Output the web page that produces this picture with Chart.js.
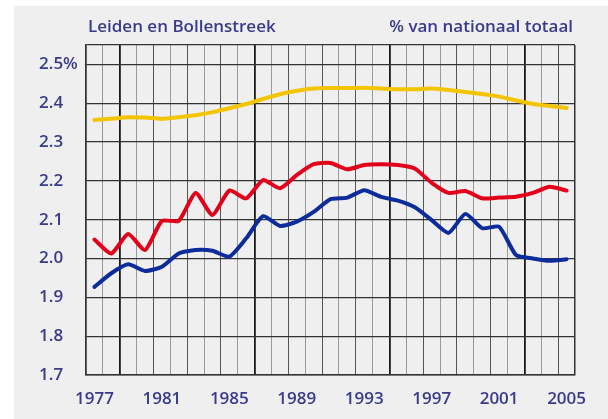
<!DOCTYPE html>
<html>
<head>
<meta charset="utf-8">
<script src="https://cdn.jsdelivr.net/npm/chart.js@4"></script>
<style>
  html, body { margin: 0; padding: 0; background: #fff; }
  #wrap { position: relative; width: 608px; height: 419px; }
  #panel { position: absolute; left: 14px; top: 6px; right: 0; bottom: 0; background: #efefef; }
  #chart { position: absolute; left: 0; top: 0; }
</style>
</head>
<body>
<div id="wrap">
  <div id="panel"></div>
  <canvas id="chart" width="608" height="419"></canvas>
</div>
<script>
// jaren (categorieen)
const years = ['1977', '1978', '1979', '1980', '1981', '1982', '1983', '1984', '1985', '1986',
               '1987', '1988', '1989', '1990', '1991', '1992', '1993', '1994', '1995', '1996',
               '1997', '1998', '1999', '2000', '2001', '2002', '2003', '2004', '2005'];

// % van nationaal totaal
const yellowValues = [2.357, 2.360, 2.364, 2.363, 2.360, 2.364, 2.369, 2.377, 2.387, 2.398,
                      2.411, 2.423, 2.432, 2.438, 2.439, 2.439, 2.440, 2.438, 2.436, 2.436,
                      2.438, 2.434, 2.429, 2.424, 2.417, 2.407, 2.398, 2.393, 2.388];
const redValues    = [2.049, 2.013, 2.063, 2.022, 2.097, 2.097, 2.169, 2.112, 2.175, 2.155,
                      2.202, 2.181, 2.215, 2.243, 2.246, 2.230, 2.241, 2.243, 2.241, 2.232,
                      2.195, 2.169, 2.174, 2.155, 2.157, 2.159, 2.169, 2.185, 2.175];
const blueValues   = [1.927, 1.962, 1.985, 1.968, 1.979, 2.013, 2.022, 2.020, 2.005, 2.052,
                      2.109, 2.084, 2.095, 2.120, 2.153, 2.157, 2.176, 2.159, 2.149, 2.132,
                      2.099, 2.066, 2.115, 2.078, 2.082, 2.009, 2.000, 1.994, 1.998];

const leftTitle = 'Leiden en Bollenstreek';
const rightTitle = '% van nationaal totaal';

const textColor = '#3a3a8c';
const fontFamily = '"Open Sans", "Noto Sans", sans-serif';

// verticale rasterlijnen: om de 8 een zware lijn, om en om donker/licht
function xGridColor(c) {
    const i = c.index;
    if (i === undefined || i === 0) return '#333';
    if ((i - 2) % 8 === 0) return '#1a1a1a';
    return i % 2 === 0 ? '#555' : '#9a9a9a';
}
function xGridWidth(c) {
    const i = c.index;
    if (i === undefined || i === 0) return 1.5;
    if ((i - 2) % 8 === 0) return 1.8;
    return 1;
}

// titels boven de grafiek
const titlePlugin = {
    id: 'titles',
    afterDraw(chart) {
        const { ctx, chartArea } = chart;
        ctx.save();
        ctx.font = '600 17px ' + fontFamily;
        ctx.fillStyle = textColor;
        ctx.textBaseline = 'alphabetic';
        ctx.textAlign = 'left';
        ctx.fillText(leftTitle, chartArea.left + 2, 32);
        ctx.textAlign = 'right';
        ctx.fillText(rightTitle, chartArea.right - 2, 32);
        ctx.restore();
    }
};

function lineSet(label, values, color) {
    return {
        label: label,
        data: values,
        borderColor: color,
        backgroundColor: color,
        borderWidth: 4,
        tension: 0.2,
        pointRadius: 0,
        pointHoverRadius: 0,
        borderCapStyle: 'round',
        borderJoinStyle: 'round'
    };
}

new Chart(document.getElementById('chart').getContext('2d'), {
    type: 'line',
    data: {
        labels: years,
        datasets: [
            lineSet('geel', yellowValues, '#f3c400'),
            lineSet('rood', redValues, '#e2001a'),
            lineSet('blauw', blueValues, '#0c2c9c')
        ]
    },
    options: {
        responsive: false,
        animation: false,
        layout: { padding: { left: 39, right: 33, top: 45, bottom: 0 } },
        plugins: {
            legend: { display: false },
            tooltip: { enabled: false }
        },
        scales: {
            x: {
                offset: true,
                grid: {
                    offset: true,
                    drawTicks: false,
                    color: xGridColor,
                    lineWidth: xGridWidth
                },
                border: { color: '#333', width: 1.5 },
                ticks: {
                    autoSkip: false,
                    maxRotation: 0,
                    padding: 14,
                    color: textColor,
                    font: { family: fontFamily, size: 17, weight: '600' },
                    callback: function (value, index) {
                        return index % 4 === 0 ? this.getLabelForValue(value) : '';
                    }
                },
                afterFit: function (scale) { scale.height = 44; }
            },
            y: {
                min: 1.7,
                max: 2.55,
                grid: {
                    drawTicks: false,
                    color: '#333',
                    lineWidth: 1.3
                },
                border: { color: '#333', width: 1.5 },
                ticks: {
                    stepSize: 0.1,
                    crossAlign: 'far',
                    padding: 6,
                    color: textColor,
                    font: { family: fontFamily, size: 17, weight: '600' },
                    callback: function (v) {
                        if (Math.abs(v - 2.5) < 1e-6) return '2.5%';
                        if (v > 2.5) return '';
                        return v.toFixed(1);
                    }
                },
                afterFit: function (scale) { scale.width = 47; }
            }
        }
    },
    plugins: [titlePlugin]
});
</script>
</body>
</html>
